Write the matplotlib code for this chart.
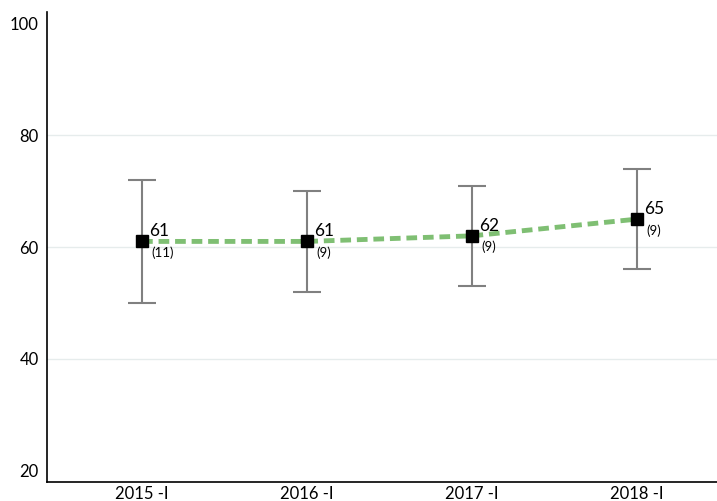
import numpy as np
import matplotlib
matplotlib.use('Agg')
import matplotlib.pyplot as plt

plt.rcParams['font.family'] = ['Lato', 'DejaVu Sans']

periods = ['2015 -I', '2016 -I', '2017 -I', '2018 -I']
means = [61, 61, 62, 65]
upper = [72, 70, 71, 74]
lower = [50, 52, 53, 56]
counts = [11, 9, 9, 9]

fig = plt.figure(figsize=(7.17, 5.01), dpi=100)
ax = fig.add_axes([47/717, 19/501, 670/717, 470/501])

x = np.arange(len(periods))
m = np.array(means)
yerr = [m - np.array(lower), np.array(upper) - m]

ax.errorbar(x, m, yerr=yerr, fmt='none', ecolor='#808080', elinewidth=1.5,
            capsize=10, capthick=1.5, zorder=2)
ax.plot(x, m, color='#7fbf73', linewidth=3.5, linestyle=(0, (2.2, 1.2)), zorder=3)
ax.plot(x, m, linestyle='none', marker='s', markersize=9, color='black', zorder=4)

for xi, mi, ci in zip(x, means, counts):
    ax.annotate(str(mi), (xi, mi), xytext=(5, 1.5), textcoords='offset points',
                fontsize=12.5, ha='left', va='bottom')
    ax.annotate('(%d)' % ci, (xi, mi), xytext=(7, -3.5), textcoords='offset points',
                fontsize=9.5, ha='left', va='top')

ax.set_ylim(17.85, 102.15)
ax.set_xlim(-0.576, 3.485)
ax.set_yticks([20, 40, 60, 80, 100])
ax.set_xticks(x)
ax.set_xticklabels(periods)
ax.tick_params(length=0, labelsize=12)
ax.tick_params(axis='y', pad=6)
ax.tick_params(axis='x', pad=3)

ax.grid(axis='y', color='#e6ecec', linewidth=1)
gl = ax.yaxis.get_gridlines()
gl[0].set_visible(False)
gl[-1].set_visible(False)
ax.set_axisbelow(True)
for s in ['top', 'right']:
    ax.spines[s].set_visible(False)
ax.spines['left'].set_linewidth(1.2)
ax.spines['bottom'].set_linewidth(1.2)

plt.savefig('out.png', dpi=100)
